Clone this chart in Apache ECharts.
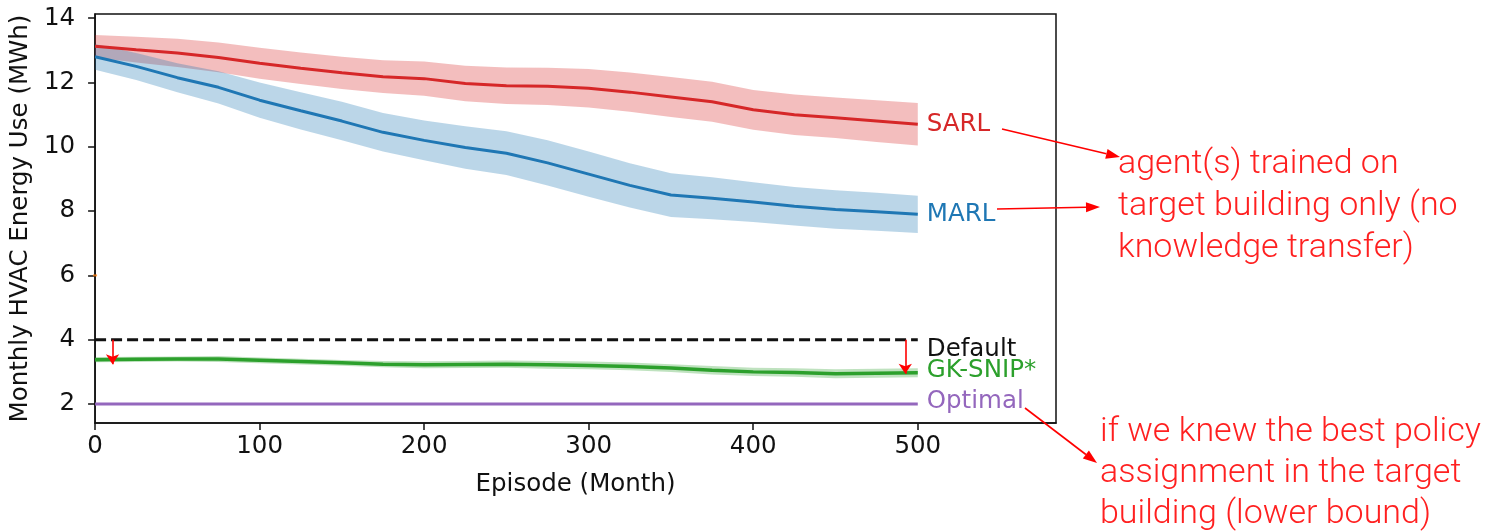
<!DOCTYPE html>
<html>
<head>
<meta charset="utf-8">
<script src="https://cdn.jsdelivr.net/npm/echarts@6/dist/echarts.min.js"></script>
<style>
  html, body { margin: 0; padding: 0; background: #fff; }
  #chart { width: 1493px; height: 532px; }
</style>
</head>
<body>
<div id="chart"></div>
<script>
// episodes sampled along the x axis
const episodes = [0, 25, 50, 75, 100, 125, 150, 175, 200, 225, 250, 275, 300, 325, 350, 375, 400, 425, 450, 475, 500]

const sarlMean  = [13.13, 13.02, 12.92, 12.78, 12.60, 12.44, 12.30, 12.18, 12.12, 11.97, 11.90, 11.88, 11.82, 11.70, 11.55, 11.40, 11.15, 11.00, 10.90, 10.80, 10.70]
const sarlUpper = [13.48, 13.42, 13.36, 13.24, 13.08, 12.93, 12.80, 12.69, 12.65, 12.52, 12.47, 12.46, 12.42, 12.31, 12.17, 12.02, 11.77, 11.63, 11.53, 11.45, 11.36]
const sarlLower = [12.78, 12.62, 12.48, 12.32, 12.12, 11.95, 11.80, 11.67, 11.59, 11.42, 11.33, 11.30, 11.22, 11.09, 10.93, 10.78, 10.53, 10.37, 10.27, 10.15, 10.04]

const marlMean  = [12.80, 12.50, 12.15, 11.85, 11.45, 11.12, 10.80, 10.45, 10.20, 9.98, 9.80, 9.50, 9.15, 8.80, 8.50, 8.40, 8.28, 8.15, 8.05, 7.98, 7.90]
const marlUpper = [13.20, 12.92, 12.60, 12.35, 12.00, 11.70, 11.40, 11.05, 10.82, 10.64, 10.48, 10.20, 9.85, 9.49, 9.18, 9.05, 8.90, 8.75, 8.65, 8.57, 8.48]
const marlLower = [12.40, 12.08, 11.70, 11.35, 10.90, 10.54, 10.20, 9.85, 9.58, 9.32, 9.12, 8.80, 8.45, 8.11, 7.82, 7.75, 7.66, 7.55, 7.45, 7.39, 7.32]

const gkMean  = [3.38, 3.39, 3.40, 3.40, 3.36, 3.32, 3.28, 3.24, 3.22, 3.23, 3.24, 3.22, 3.20, 3.17, 3.12, 3.05, 3.00, 2.98, 2.94, 2.96, 2.97]
const gkUpper = [3.46, 3.47, 3.48, 3.49, 3.45, 3.41, 3.37, 3.34, 3.33, 3.34, 3.35, 3.34, 3.32, 3.29, 3.24, 3.18, 3.13, 3.11, 3.08, 3.10, 3.11]
const gkLower = [3.30, 3.31, 3.32, 3.31, 3.27, 3.23, 3.19, 3.14, 3.11, 3.12, 3.13, 3.10, 3.08, 3.05, 3.00, 2.92, 2.87, 2.85, 2.80, 2.82, 2.83]

// flat reference lines
const refEpisodes = [0, 500]
const defaultValues = [4, 4]
const optimalValues = [2, 2]

// red drop arrows (episode, from, to)
const gapArrows = [
  [10.6, 4.0, 3.24],
  [492.4, 4.0, 2.94],
]

// stray orange mark on the y axis
const strayPoint = [[0, 6]]

const xTicks = [0, 100, 200, 300, 400, 500]
const yTicks = [2, 4, 6, 8, 10, 12, 14]

const FONT = 'DejaVu Sans'
const FS = 24.5
const pairs = (xs, ys) => xs.map((x, i) => [x, ys[i]])

// shaded spread drawn as one polygon through the axis scales
function band(name, lower, upper, color) {
  return {
    name: name + '-band', type: 'custom', silent: true, z: 1,
    data: episodes.map((x, i) => [x, lower[i], upper[i]]),
    encode: { x: 0, y: [1, 2] },
    renderItem: (params, api) => {
      if (params.dataIndex !== 0) return
      const top = episodes.map((x, i) => api.coord([x, upper[i]]))
      const bot = episodes.map((x, i) => api.coord([x, lower[i]])).reverse()
      return {
        type: 'polygon',
        shape: { points: top.concat(bot) },
        style: { fill: color },
      }
    },
  }
}

function meanLine(name, data, xs, color, width, extra) {
  return Object.assign({
    name, type: 'line', data: pairs(xs, data), symbol: 'none', z: 3,
    lineStyle: { color, width },
    endLabel: { show: true, formatter: name, color, fontFamily: FONT, fontSize: FS, distance: 9 },
  }, extra || {})
}

// annotation arrows outside the plot
function arrow(x1, y1, x2, y2) {
  const ang = Math.atan2(y2 - y1, x2 - x1)
  const len = 14, half = 5
  const bx = x2 - len * Math.cos(ang), by = y2 - len * Math.sin(ang)
  const px = -Math.sin(ang) * half, py = Math.cos(ang) * half
  return [
    { type: 'line', shape: { x1, y1, x2: bx, y2: by }, style: { stroke: '#ff0000', lineWidth: 1.6 }, z: 10 },
    { type: 'polygon', shape: { points: [[x2, y2], [bx + px, by + py], [bx - px, by - py]] }, style: { fill: '#ff0000' }, z: 10 },
  ]
}

function note(lines, x, y0, step) {
  return lines.map((t, i) => ({
    type: 'text', x, y: y0 + i * step, z: 10,
    style: { text: t, fill: '#ff2020', font: '300 34px Roboto', verticalAlign: 'middle', align: 'left' },
  }))
}

const chart = echarts.init(document.getElementById('chart'), null, { renderer: 'canvas' })

chart.setOption({
  animation: false,
  backgroundColor: '#fff',
  textStyle: { fontFamily: FONT },
  grid: {
    left: 94, right: 437, top: 14, bottom: 109,
    show: true, borderColor: '#111', borderWidth: 1.5, backgroundColor: 'transparent',
  },
  xAxis: {
    type: 'value', min: 0, max: 584,
    name: 'Episode (Month)', nameLocation: 'middle', nameGap: 49,
    nameTextStyle: { color: '#111', fontSize: FS, fontFamily: FONT },
    axisLine: { show: true, onZero: false, lineStyle: { color: '#111', width: 1.5 } },
    axisTick: { show: true, customValues: xTicks, length: 7, lineStyle: { color: '#111', width: 1.5 } },
    axisLabel: { customValues: xTicks, color: '#111', fontSize: FS, fontFamily: FONT, margin: 11 },
    splitLine: { show: false },
  },
  yAxis: {
    type: 'value', min: 1.41, max: 14.13,
    name: 'Monthly HVAC Energy Use (MWh)', nameLocation: 'middle', nameGap: 60, nameRotate: 90,
    nameTextStyle: { color: '#111', fontSize: FS, fontFamily: FONT },
    axisLine: { show: true, onZero: false, lineStyle: { color: '#111', width: 1.5 } },
    axisTick: { show: true, customValues: yTicks, length: 7, lineStyle: { color: '#111', width: 1.5 } },
    axisLabel: { customValues: yTicks, color: '#111', fontSize: FS, fontFamily: FONT, margin: 20 },
    splitLine: { show: false },
  },
  series: [
    band('sarl', sarlLower, sarlUpper, 'rgba(214,39,40,0.3)'),
    band('marl', marlLower, marlUpper, 'rgba(31,119,180,0.3)'),
    band('gk', gkLower, gkUpper, 'rgba(44,160,44,0.3)'),
    meanLine('SARL', sarlMean, episodes, '#d62728', 3),
    meanLine('MARL', marlMean, episodes, '#1f77b4', 3),
    meanLine('Default', defaultValues, refEpisodes, '#111', 3, {
      lineStyle: { color: '#111', width: 3, type: [11, 5] },
      endLabel: { show: true, formatter: 'Default', color: '#111', fontFamily: FONT, fontSize: FS, distance: 9, offset: [0, 10] },
      markLine: {
        silent: true, symbol: ['none', 'arrow'], symbolSize: 10,
        label: { show: false },
        lineStyle: { color: '#ff0000', width: 1.6, type: 'solid' },
        data: gapArrows.map(([x, a, b]) => [{ coord: [x, a] }, { coord: [x, b] }]),
      },
    }),
    meanLine('GK-SNIP*', gkMean, episodes, '#2ca02c', 3.5, {
      endLabel: { show: true, formatter: 'GK-SNIP*', color: '#2ca02c', fontFamily: FONT, fontSize: FS, distance: 9, offset: [0, -2] },
    }),
    meanLine('Optimal', optimalValues, refEpisodes, '#9467bd', 3, {
      endLabel: { show: true, formatter: 'Optimal', color: '#9467bd', fontFamily: FONT, fontSize: FS, distance: 9, offset: [0, -2] },
    }),
    {
      type: 'scatter', data: strayPoint, symbol: 'rect', symbolSize: [4, 2],
      itemStyle: { color: '#ff7f0e' }, z: 4, silent: true,
    },
  ],
  graphic: [
    ...arrow(1002, 129, 1120, 157),
    ...arrow(997, 209, 1100, 207),
    ...arrow(1025, 408, 1097, 463),
    ...note(['agent(s) trained on', 'target building only (no', 'knowledge transfer)'], 1118, 164, 42),
    ...note(['if we knew the best policy', 'assignment in the target', 'building (lower bound)'], 1100, 432, 41),
  ],
})
</script>
</body>
</html>
